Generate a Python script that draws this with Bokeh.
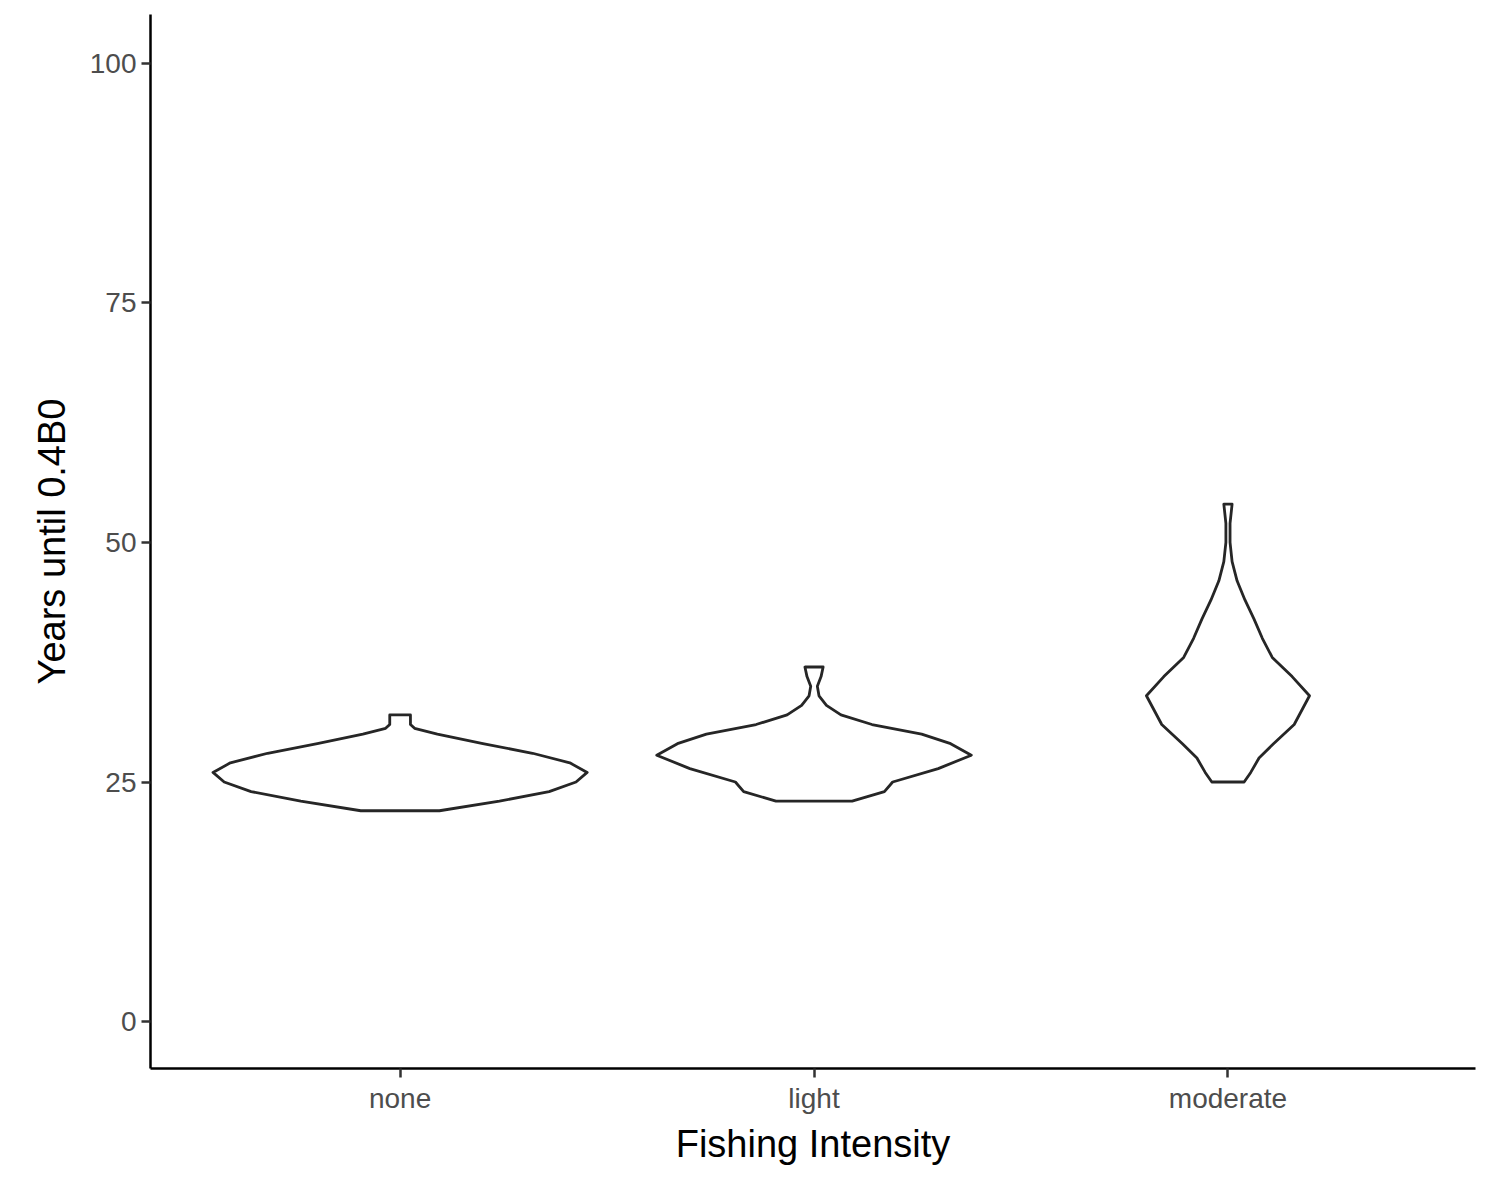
from bokeh.plotting import figure
from bokeh.models import Range1d, FixedTicker
from bokeh.embed import file_html
from bokeh.resources import INLINE

# Data: violin outlines as (years, half-width in category units)
categories = ["none", "light", "moderate"]
none_y = [22, 23, 24, 25, 26, 27, 28, 29, 30, 30.6, 31, 32]
none_hw = [0.095, 0.24, 0.36, 0.425, 0.452, 0.41, 0.32, 0.2, 0.09, 0.035, 0.025, 0.025]
light_y = [23, 24, 25, 26.4, 27.8, 29, 30, 31, 32, 33, 34, 35, 36, 37]
light_hw = [0.092, 0.17, 0.19, 0.3, 0.38, 0.33, 0.26, 0.14, 0.065, 0.03, 0.012, 0.008, 0.017, 0.022]
moderate_y = [25, 26, 27.5, 29, 31, 34, 36, 38, 40, 42, 44, 46, 48, 50, 52, 54]
moderate_hw = [0.039, 0.055, 0.075, 0.11, 0.16, 0.197, 0.155, 0.107, 0.083, 0.063, 0.041, 0.022, 0.01, 0.005, 0.005, 0.01]
profiles = [(none_y, none_hw), (light_y, light_hw), (moderate_y, moderate_hw)]

p = figure(width=1480, height=1180, output_backend="svg", toolbar_location=None,
           x_range=Range1d(0.397, 3.598), y_range=Range1d(-4.9, 105.1),
           min_border_left=150, min_border_top=14, min_border_right=5, min_border_bottom=112,
           x_axis_label="Fishing Intensity", y_axis_label="Years until 0.4B0")

for i, (ys, hw) in enumerate(profiles):
    c = i + 1
    xs = [c - h for h in hw] + [c + h for h in reversed(hw)]
    yy = list(ys) + list(reversed(ys))
    p.patch(xs, yy, fill_color="white", line_color="#262626", line_width=2.8,
            line_join="round")

p.outline_line_color = None
p.grid.visible = False
p.xaxis.ticker = FixedTicker(ticks=[1, 2, 3])
p.xaxis.major_label_overrides = {1: "none", 2: "light", 3: "moderate"}
p.yaxis.ticker = FixedTicker(ticks=[0, 25, 50, 75, 100])
for ax in (p.xaxis, p.yaxis):
    ax.axis_line_color = "black"
    ax.axis_line_width = 2.5
    ax.major_tick_line_color = "#333333"
    ax.major_tick_line_width = 2.5
    ax.major_tick_out = 9
    ax.major_tick_in = 0
    ax.minor_tick_line_color = None
    ax.major_label_text_font = "Liberation Sans"
    ax.major_label_text_font_size = "28px"
    ax.major_label_text_color = "#4d4d4d"
    ax.axis_label_text_font = "Liberation Sans"
    ax.axis_label_text_font_size = "38px"
    ax.axis_label_text_font_style = "normal"
    ax.axis_label_text_color = "black"
p.xaxis.axis_label_standoff = 6
p.yaxis.axis_label_standoff = 14

open("out.html", "w").write(file_html(p, INLINE))
